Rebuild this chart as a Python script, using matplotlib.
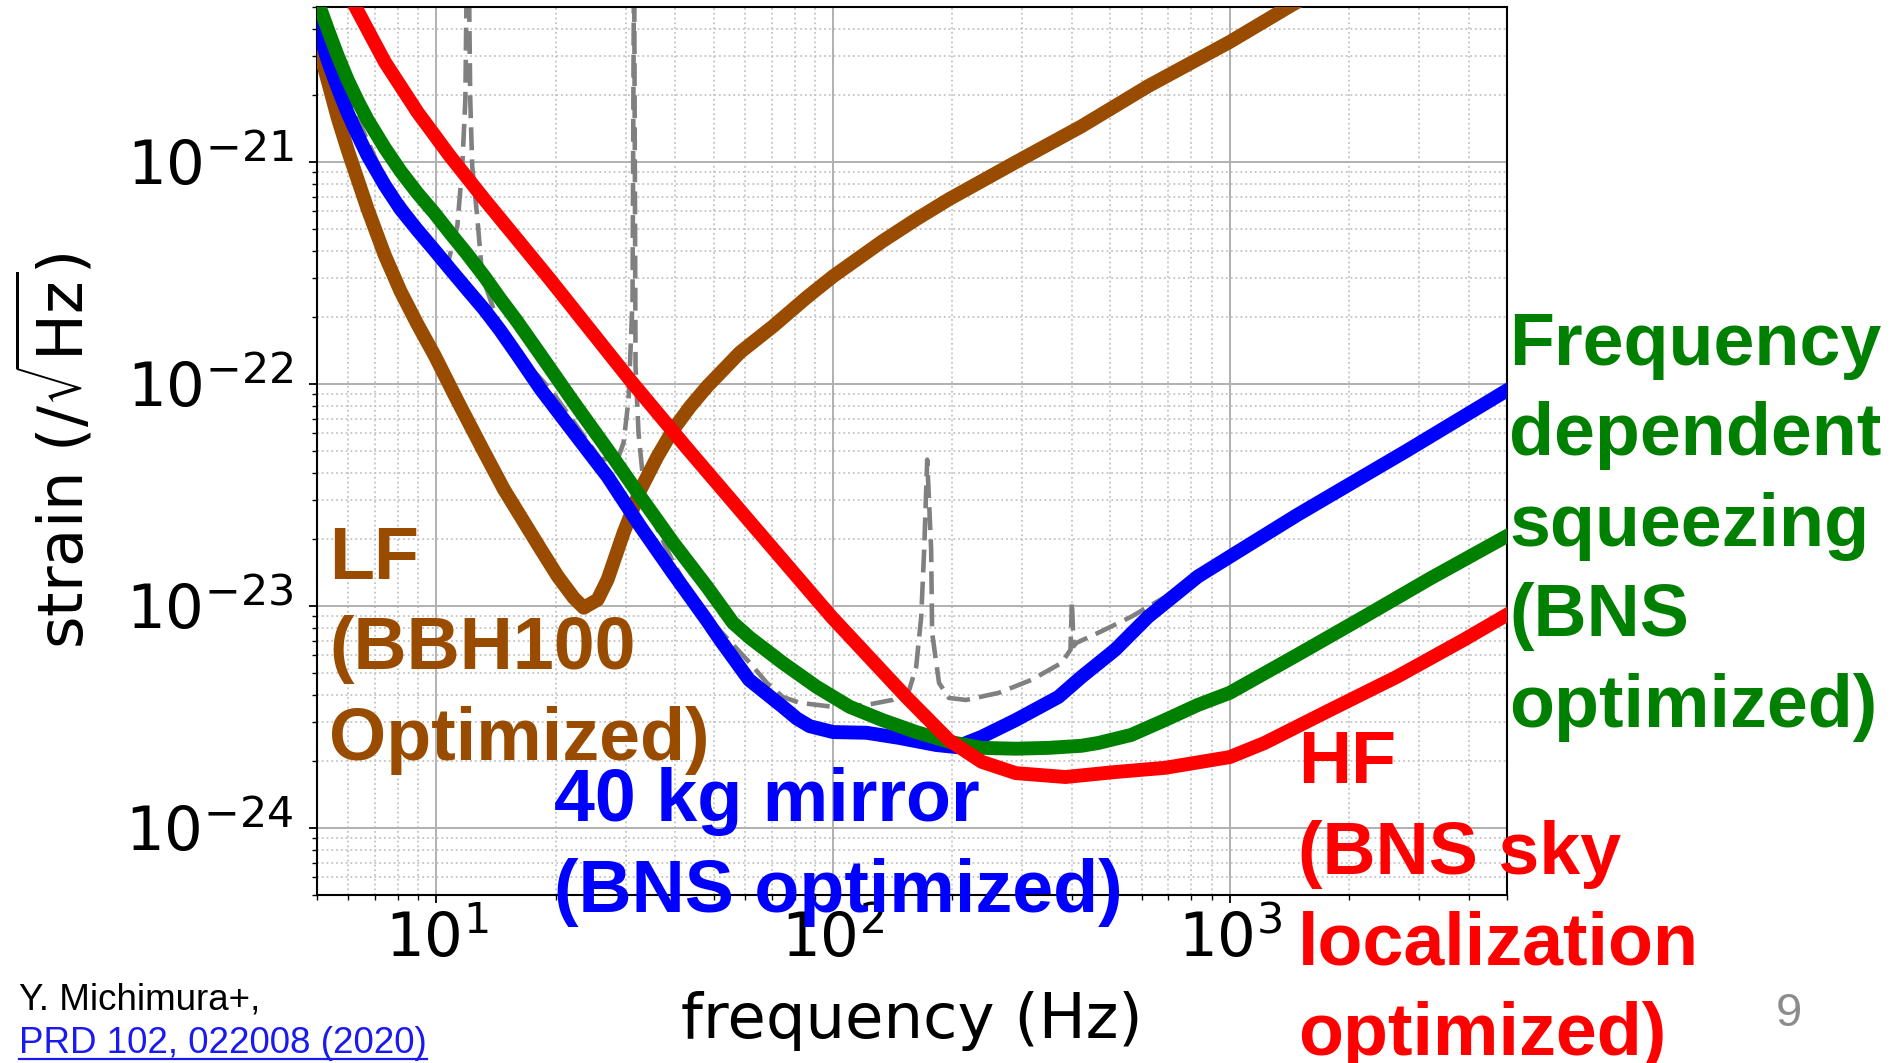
import matplotlib
matplotlib.use("Agg")
import matplotlib.pyplot as plt

# strain curves (frequency in Hz, strain in 1/sqrt(Hz))
LF_FREQ   = [5.0, 5.33, 5.64, 5.98, 6.34, 6.71, 7.41, 8.12, 8.96, 9.89, 11.29, 13.05, 14.81,
             18.34, 20.24, 22.2, 23.52, 25.5, 27.02, 29.64, 32.7, 36.07, 39.56, 43.64, 48.15,
             58.27, 70.5, 85.82, 100, 133.1, 162, 196, 288.8, 422.8, 622.6, 1000, 1422, 1600]
LF_STRAIN = [3.5e-21, 2.30e-21, 1.58e-21, 1.13e-21, 8.29e-22, 6.14e-22, 3.81e-22, 2.62e-22,
             1.86e-22, 1.35e-22, 8.44e-23, 5.13e-23, 3.35e-23, 1.80e-23, 1.36e-23, 1.09e-23,
             9.84e-24, 1.07e-23, 1.32e-23, 2.14e-23, 3.35e-23, 4.72e-23, 6.25e-23, 7.93e-23,
             9.76e-23, 1.39e-22, 1.82e-22, 2.46e-22, 3.06e-22, 4.40e-22, 5.53e-22, 6.81e-22,
             1.0e-21, 1.45e-21, 2.20e-21, 3.48e-21, 5.06e-21, 5.7e-21]

MIRROR_FREQ   = [5.0, 5.33, 5.64, 5.98, 6.34, 6.71, 7.41, 8.12, 8.96, 9.89, 10.84, 11.96, 13.2,
                 14.47, 15.97, 18.34, 22.2, 27.02, 32.7, 39.56, 48.15, 51.9, 61.4, 74.7, 81.0,
                 87.3, 100, 121.4, 146.9, 181.8, 204, 237, 288.8, 370, 422.8, 514, 622.6, 831,
                 1000, 1482, 2182, 2797, 5000]
MIRROR_STRAIN = [4.1e-21, 2.85e-21, 2.16e-21, 1.66e-21, 1.32e-21, 1.07e-21, 7.87e-22, 6.14e-22,
                 4.94e-22, 4.01e-22, 3.29e-22, 2.67e-22, 2.17e-22, 1.75e-22, 1.36e-22, 9.46e-23,
                 6.05e-23, 3.83e-23, 2.28e-23, 1.40e-23, 8.59e-24, 7.05e-24, 4.66e-24, 3.52e-24,
                 3.12e-24, 2.88e-24, 2.71e-24, 2.69e-24, 2.55e-24, 2.37e-24, 2.32e-24, 2.58e-24,
                 3.07e-24, 3.90e-24, 4.80e-24, 6.36e-24, 8.96e-24, 1.36e-23, 1.67e-23, 2.58e-23,
                 3.87e-23, 5.02e-23, 9.38e-23]

FDS_FREQ   = [5.0, 5.33, 5.64, 5.98, 6.34, 6.71, 7.41, 8.12, 8.96, 9.89, 10.84, 11.96, 13.2,
              14.47, 15.97, 18.34, 22.2, 27.02, 32.7, 39.56, 48.15, 55.95, 61.73, 74.7, 90.9,
              110.2, 133.1, 162, 196, 237, 288.8, 349.4, 422.8, 466.5, 564.4, 687, 831, 1000,
              1482, 2182, 3195, 5000]
FDS_STRAIN = [5.4e-21, 3.94e-21, 3.01e-21, 2.34e-21, 1.88e-21, 1.55e-21, 1.16e-21, 9.11e-22,
              7.25e-22, 5.89e-22, 4.78e-22, 3.85e-22, 3.06e-22, 2.43e-22, 1.92e-22, 1.35e-22,
              8.27e-23, 5.07e-23, 3.11e-23, 1.93e-23, 1.22e-23, 8.41e-24, 7.2e-24, 5.55e-24,
              4.33e-24, 3.52e-24, 3.07e-24, 2.71e-24, 2.45e-24, 2.30e-24, 2.28e-24, 2.30e-24,
              2.35e-24, 2.42e-24, 2.63e-24, 3.07e-24, 3.59e-24, 4.07e-24, 6.04e-24, 8.96e-24,
              1.33e-23, 2.07e-23]

HF_FREQ   = [6.0, 6.23, 7.41, 8.96, 10.84, 13.2, 15.97, 19.32, 30.7, 42.7, 61.7, 99.1, 152.9,
             196, 237, 288.8, 385.5, 514, 687, 1000, 1224, 1792, 2640, 3888, 5000]
HF_STRAIN = [5.75e-21, 5.06e-21, 2.83e-21, 1.68e-21, 1.06e-21, 6.81e-22, 4.50e-22, 2.97e-22,
             1.05e-22, 5.18e-23, 2.40e-23, 8.95e-24, 3.90e-24, 2.49e-24, 1.99e-24, 1.77e-24,
             1.70e-24, 1.79e-24, 1.87e-24, 2.09e-24, 2.42e-24, 3.41e-24, 4.81e-24, 7.05e-24,
             9.15e-24]

# reference design curve, dashed grey, with its resonance peaks
REF_FREQ   = [5.0, 7.41, 10.23, 10.72, 11.29, 11.62, 11.83, 12.0, 12.17, 12.31, 12.67, 13.05,
              14.22, 15.69, 19.4, 25.9, 28.62, 29.64, 30.51, 30.86, 31.22, 31.5, 31.77, 32.32,
              33.06, 33.27, 39.56, 43.64, 48.15, 61.7, 68.1, 74.7, 82.4, 100, 121.4, 141,
              155.6, 162, 166.8, 169.7, 172.7, 176.7, 177.7, 185, 196, 216.3, 261.7, 316.7,
              376.6, 396.7, 400, 404, 411, 466.5, 564.4, 687, 784.6]
REF_STRAIN = [4.0e-21, 8.4e-22, 3.85e-22, 3.58e-22, 5.14e-22, 9.59e-22, 1.92e-21, 2e-20,
              1.92e-21, 9.59e-22, 5.71e-22, 3.06e-22, 1.96e-22, 1.43e-22, 9.46e-23, 4.6e-23,
              4.57e-23, 5.46e-23, 8.53e-23, 1.43e-22, 2.41e-22, 1e-20, 1.20e-22, 6.05e-23,
              4.0e-23, 3.02e-23, 1.57e-23, 1.15e-23, 8.96e-24, 5.55e-24, 4.51e-24, 3.90e-24,
              3.67e-24, 3.52e-24, 3.59e-24, 3.78e-24, 4.20e-24, 5.33e-24, 8.96e-24, 1.80e-23,
              4.57e-23, 1.80e-23, 7.59e-24, 4.51e-24, 3.86e-24, 3.78e-24, 4.07e-24, 4.66e-24,
              5.55e-24, 6.36e-24, 1.05e-23, 6.6e-24, 6.84e-24, 7.59e-24, 8.96e-24, 1.10e-23,
              1.29e-23]

BROWN = "#994c00"
BLUE  = "#0000ff"
GREEN = "#008000"
RED   = "#ff0000"

W, H = 1895, 1063
fig = plt.figure(figsize=(W / 100, H / 100), dpi=100)
ax = fig.add_axes([317 / W, 1 - 895 / H, 1190 / W, 888 / H])

ax.loglog(REF_FREQ, REF_STRAIN, color="gray", lw=3.3, ls="--", dashes=(5, 2), zorder=2)
thick = dict(lw=10, solid_joinstyle="round", zorder=3)
ax.loglog(LF_FREQ, LF_STRAIN, color=BROWN, **thick)
ax.loglog(MIRROR_FREQ, MIRROR_STRAIN, color=BLUE, **thick)
ax.loglog(FDS_FREQ, FDS_STRAIN, color=GREEN, **thick)
ax.loglog(HF_FREQ, HF_STRAIN, color=RED, **thick)

ax.set_xlim(5, 5000)
ax.set_ylim(5e-25, 5e-21)
ax.grid(which="major", color="#b0b0b0", lw=1.4)
ax.grid(which="minor", color="#c4c4c4", ls=":", lw=1.3)
for s in ax.spines.values():
    s.set_linewidth(1.5)
ax.tick_params(which="major", labelsize=44, length=6, width=1.3)
ax.tick_params(which="minor", length=3.5, width=1.0)
ax.tick_params(axis="y", which="major", pad=11)
ax.tick_params(axis="x", which="major", pad=5)

ax.set_xlabel("frequency (Hz)", fontsize=45)
ax.set_ylabel(r"strain (/$\sqrt{\mathrm{Hz}}$)", fontsize=45)
ax.xaxis.set_label_coords(0.5, -0.108)
ax.yaxis.set_label_coords(-0.185, 0.5)

# multi-line labels: y is the baseline of the last line
big = dict(fontsize=53, fontweight="bold", family="Liberation Sans",
           ha="left", va="baseline", linespacing=1.40)
fig.text(329 / W, 1 - 760 / H, "LF\n(BBH100\nOptimized)", color=BROWN, **big)
fig.text(554 / W, 1 - 912 / H, "40 kg mirror\n(BNS optimized)", color=BLUE, **big)
fig.text(1298 / W, 1 - 1055 / H, "HF\n(BNS sky\nlocalization\noptimized)", color=RED, **big)
fig.text(1509 / W, 1 - 727 / H, "Frequency\ndependent\nsqueezing\n(BNS\noptimized)",
         color=GREEN, **big)

fig.text(19 / W, 1 - 1010 / H, "Y. Michimura+,", fontsize=26.5, family="Liberation Sans",
         va="baseline")
ref = fig.text(19 / W, 1 - 1053 / H, "PRD 102, 022008 (2020)", fontsize=26.5,
               family="Liberation Sans", va="baseline", color="#1a1aee")
fig.text(1789 / W, 1 - 1026 / H, "9", fontsize=34, family="Liberation Sans",
         ha="center", va="baseline", color="#8c8c8c")

# underline the reference like a hyperlink
fig.canvas.draw()
bb = ref.get_window_extent()
fig.add_artist(plt.Line2D([bb.x0 / W, bb.x1 / W], [1 - 1059 / H, 1 - 1059 / H],
                          transform=fig.transFigure, color="#1a1aee", lw=1.6))

fig.savefig("out.png", dpi=100)
